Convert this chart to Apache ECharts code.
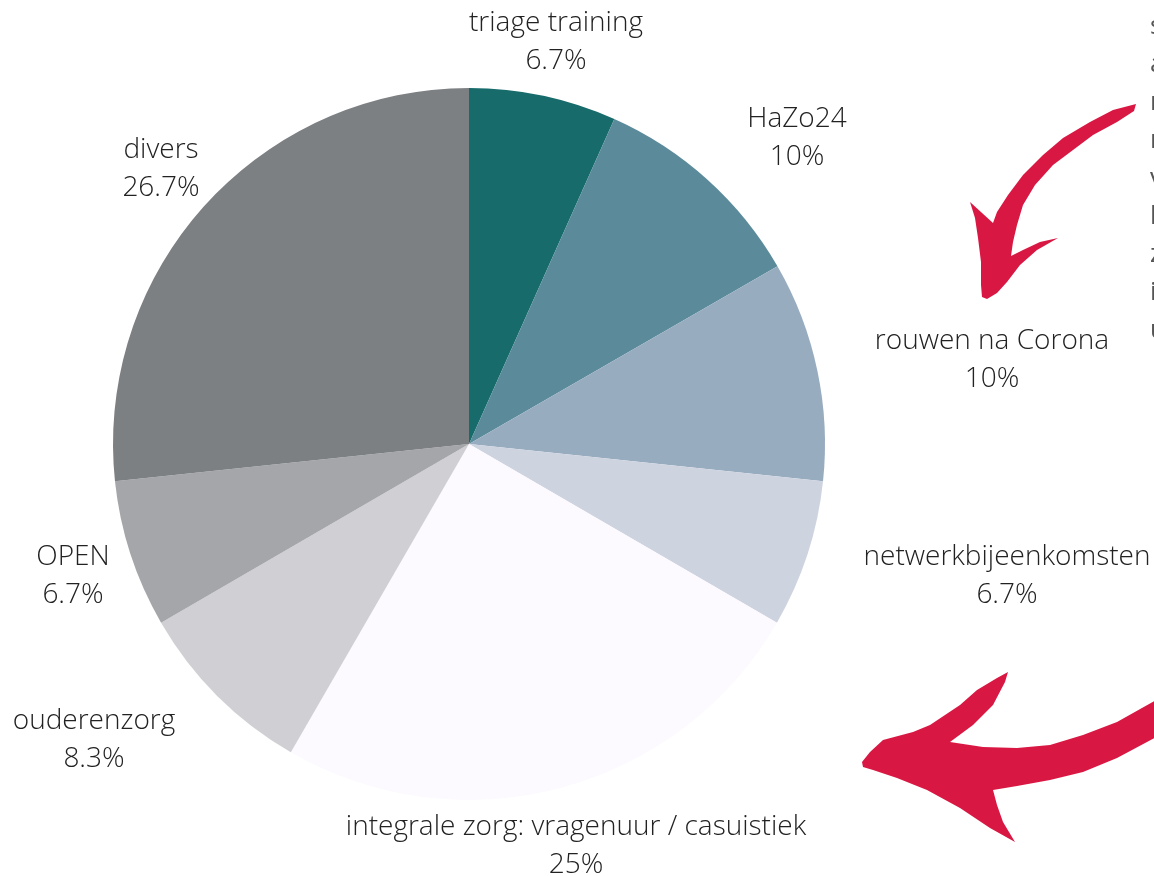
<!DOCTYPE html>
<html><head><meta charset="utf-8">
<script src="https://cdn.jsdelivr.net/npm/echarts@6/dist/echarts.min.js"></script>
<style>html,body{margin:0;padding:0;background:#fff}#c{width:1154px;height:876px}</style>
</head><body><div id="c"></div>
<script>
const categories = ['triage training','HaZo24','rouwen na Corona','netwerkbijeenkomsten','integrale zorg: vragenuur / casuistiek','ouderenzorg','OPEN','divers'];
const values = [6.7, 10, 10, 6.7, 25, 8.3, 6.7, 26.7];
const colors = ['#176B6B','#5B8B9A','#98ACC0','#CED3E0','#FCFAFE','#D0CFD4','#A5A6A9','#7D8083'];
const labelCenters = [[556,42],[797,138],[992,360],[1007,576],[576,846],[94,740],[73,576],[161,169]];
const sideLetters = ['s','a','r','r','v','l','z','i','u'];

const chart = echarts.init(document.getElementById('c'), null, {renderer:'canvas'});
const topArrow = [[1136,104],[1113,110],[1090,122],[1063,138],[1043,155],[1023,175],[1008,195],[997,212],[993,223],[970,202],[975,218],[978,238],[981,262],[981,285],[982,297],[987,299],[997,293],[1007,282],[1020,265],[1037,250],[1058,238],[1040,242],[1023,250],[1011,256],[1013,242],[1017,225],[1023,205],[1035,185],[1053,165],[1073,150],[1093,135],[1117,122],[1134,111]];
const bottomArrow = [[862,762],[870,752],[883,740],[913,732],[930,725],[960,705],[977,690],[997,678],[1008,672],[1005,682],[993,705],[973,725],[950,742],[983,747],[1017,748],[1050,745],[1083,735],[1117,722],[1160,698],[1160,735],[1117,758],[1083,772],[1050,780],[1017,786],[993,790],[997,805],[1003,822],[1015,842],[990,828],[960,808],[927,790],[897,778],[873,770],[863,767]];

chart.setOption({
  backgroundColor:'#fff',
  animation:false,
  graphic:[
    {type:'polygon', shape:{points:topArrow}, style:{fill:'#D91743'}},
    {type:'polygon', shape:{points:bottomArrow}, style:{fill:'#D91743'}},
    {type:'text', left:1150, top:8, style:{text:sideLetters.join('\n'), fontFamily:'Open Sans', fontSize:26, lineHeight:38, fill:'#555'}}
  ],
  series:[{
    type:'pie',
    center:[469,444],
    radius:356,
    startAngle:90,
    clockwise:true,
    data: categories.map((n,i)=>({name:n, value:values[i], itemStyle:{color:colors[i]}})),
    label:{show:true, position:'outside', overflow:'none', edgeDistance:0, formatter:'{b}\n{c}%', fontFamily:'Open Sans', fontWeight:300, fontSize:28, lineHeight:38, color:'#222'},
    labelLine:{show:false},
    labelLayout:function(p){ const c = labelCenters[p.dataIndex]; return {x:c[0], y:c[1], align:'center', verticalAlign:'middle'}; },
    emphasis:{disabled:true}
  }]
});
</script></body></html>
